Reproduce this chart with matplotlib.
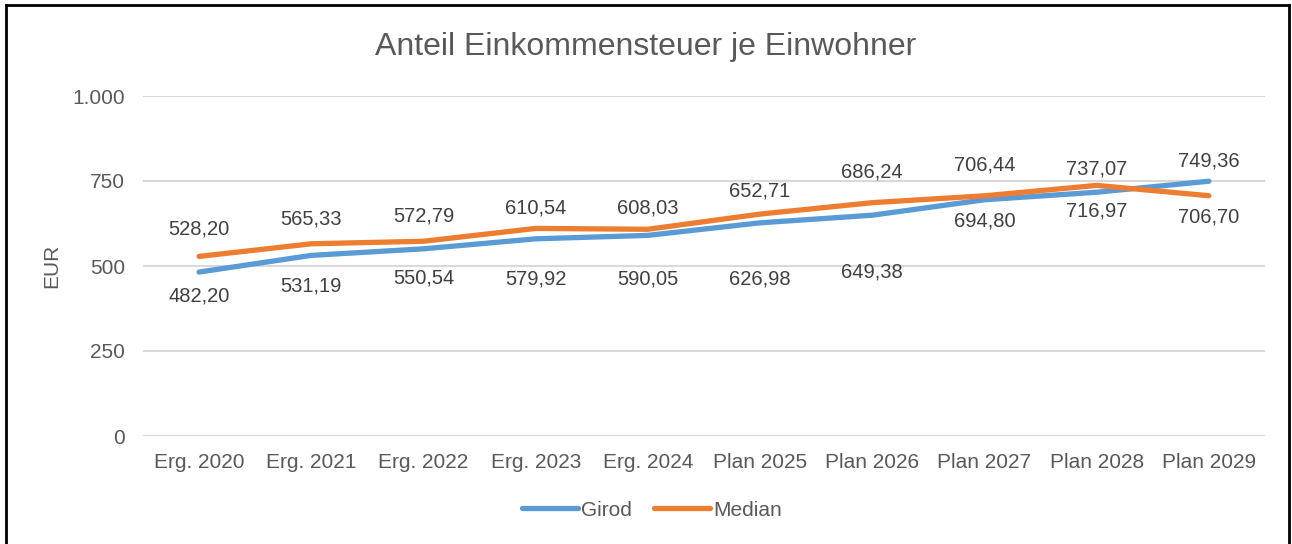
import matplotlib
matplotlib.use("Agg")
import matplotlib.pyplot as plt
from matplotlib.lines import Line2D

plt.rcParams['font.family'] = ['Liberation Sans', 'DejaVu Sans']

categories = ["Erg. 2020", "Erg. 2021", "Erg. 2022", "Erg. 2023", "Erg. 2024",
              "Plan 2025", "Plan 2026", "Plan 2027", "Plan 2028", "Plan 2029"]
girod = [482.20, 531.19, 550.54, 579.92, 590.05, 626.98, 649.38, 694.80, 716.97, 749.36]
median = [528.20, 565.33, 572.79, 610.54, 608.03, 652.71, 686.24, 706.44, 737.07, 706.70]
yticks = [0, 250, 500, 750, 1000]

# label offsets in pixels (negative = below the point)
girod_off = [-24, -31, -29, -40, -44, -56, -57, -21, -19, 20]
median_off = [27, 25, 25, 20, 21, 23, 31, 31, 16, -21]

BLUE = "#5B9BD5"
ORANGE = "#ED7D31"
TXT = "#404040"
TICK = "#595959"


def de(v, dec=2):
    s = f"{v:,.{dec}f}"
    return s.replace(",", "X").replace(".", ",").replace("X", ".")


fig = plt.figure(figsize=(12.92, 5.44), dpi=100)
ax = fig.add_axes([143 / 1292, 1 - 436 / 544, 1122 / 1292, 340 / 544])

x = list(range(len(categories)))
ax.plot(x, girod, color=BLUE, lw=3.8, solid_capstyle='round', label="Girod", zorder=3)
ax.plot(x, median, color=ORANGE, lw=3.8, solid_capstyle='round', label="Median", zorder=3)

for i in x:
    ax.annotate(de(girod[i]), (i, girod[i]), xytext=(0, girod_off[i]),
                textcoords='offset pixels', ha='center', va='center',
                fontsize=14.5, color=TXT)
    ax.annotate(de(median[i]), (i, median[i]), xytext=(0, median_off[i]),
                textcoords='offset pixels', ha='center', va='center',
                fontsize=14.5, color=TXT)

ax.set_xlim(-0.5, len(categories) - 0.5)
ax.set_ylim(0, 1000)
ax.set_yticks(yticks)
ax.set_yticklabels([de(v, 0) for v in yticks])
ax.set_xticks(x)
ax.set_xticklabels(categories)
ax.tick_params(axis='both', length=0, labelsize=15, colors=TICK)
ax.tick_params(axis='y', pad=13)
ax.tick_params(axis='x', pad=12)
ax.grid(axis='y', color="#D9D9D9", lw=1.5)
ax.set_axisbelow(True)
for s in ax.spines.values():
    s.set_visible(False)

ax.set_ylabel("EUR", fontsize=15, color=TICK, va='center')
ax.yaxis.set_label_coords((52 - 143) / 1122, 0.5)
fig.text(0.5, 1 - 47 / 544, "Anteil Einkommensteuer je Einwohner",
         ha='center', va='center', fontsize=23, color=TICK)

leg = fig.legend(loc='center', bbox_to_anchor=(652 / 1292, 1 - 510 / 544), ncol=2,
                 frameon=False, fontsize=15, handlelength=2.7,
                 handletextpad=0.15, columnspacing=1.05)
for t in leg.get_texts():
    t.set_color(TICK)

# outer frame (no bottom edge visible)
fig.add_artist(Line2D([6 / 1292, 6 / 1292], [0, 1 - 5 / 544], transform=fig.transFigure,
                      color='black', lw=2))
fig.add_artist(Line2D([1289 / 1292, 1289 / 1292], [0, 1 - 5 / 544], transform=fig.transFigure,
                      color='black', lw=2))
fig.add_artist(Line2D([6 / 1292, 1289 / 1292], [1 - 5 / 544, 1 - 5 / 544],
                      transform=fig.transFigure, color='black', lw=2))

fig.savefig("out.png", dpi=100)
